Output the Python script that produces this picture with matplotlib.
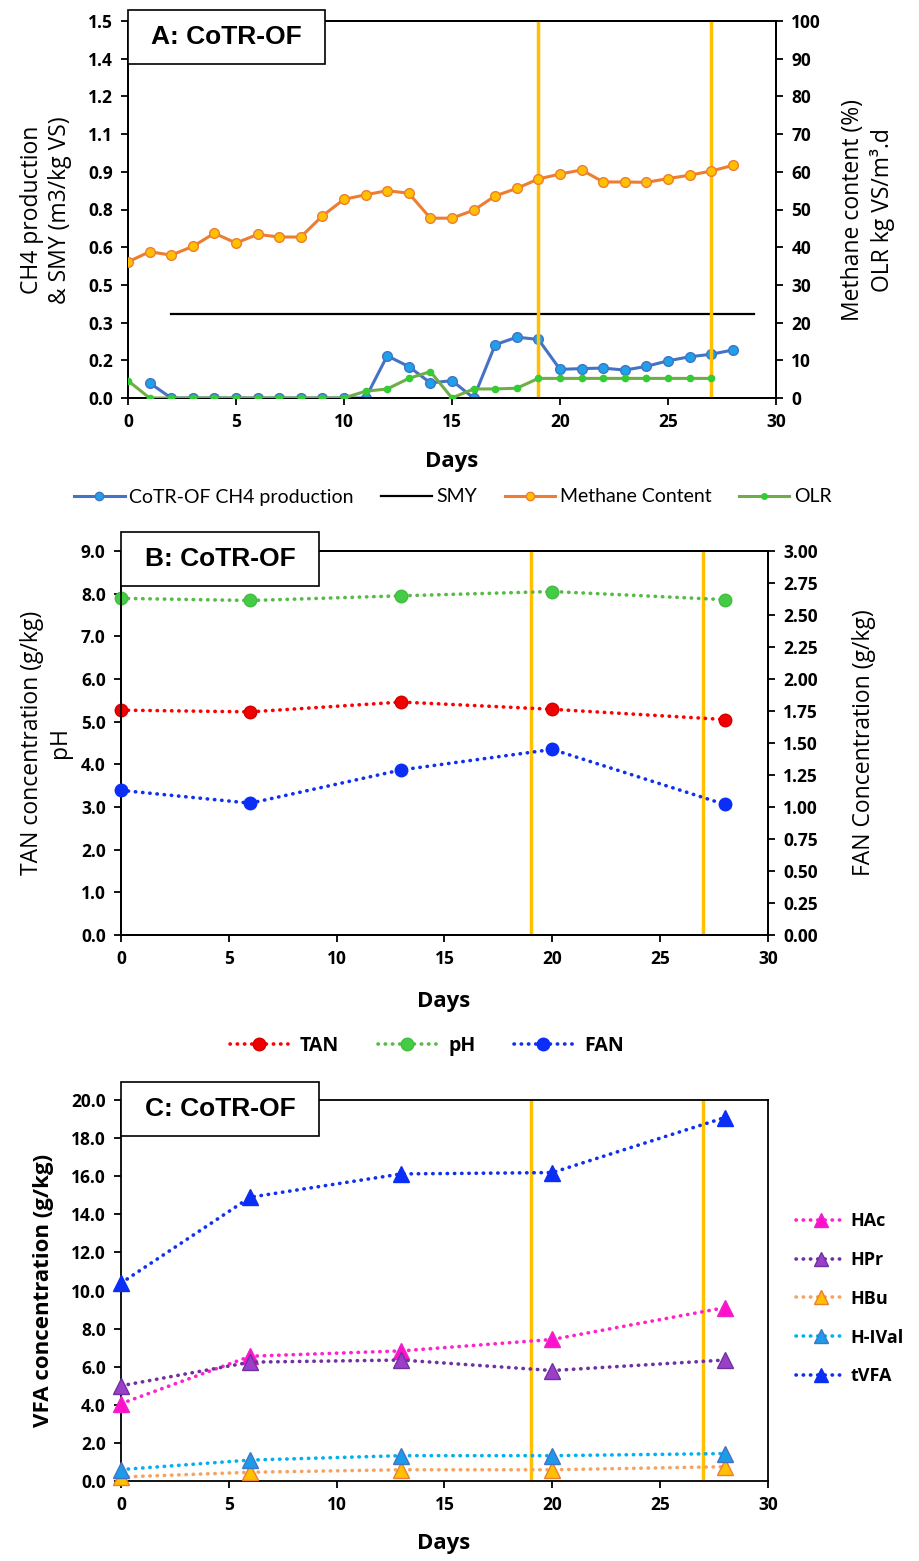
import matplotlib
matplotlib.use("Agg")
import matplotlib.pyplot as plt
from matplotlib.lines import Line2D
from matplotlib.patches import Rectangle

W, H = 920, 1561
fig = plt.figure(figsize=(9.2, 15.61), dpi=100)

# ---------------- data ----------------
# Panel A
days_ch4 = list(range(1, 29))
ch4_prod = [0.060, 0, 0, 0, 0, 0, 0, 0, 0, 0, 0,
            0.168, 0.125, 0.060, 0.069, 0.0, 0.212, 0.242, 0.233,
            0.114, 0.117, 0.119, 0.111, 0.126, 0.148, 0.164, 0.174, 0.191]
days_meth = list(range(0, 29))
methane = [36.1, 38.8, 37.9, 40.2, 43.7, 41.1, 43.4, 42.7, 42.7, 48.3,
           52.7, 53.9, 55.0, 54.3, 47.7, 47.7, 49.8, 53.6, 55.6, 58.1,
           59.4, 60.5, 57.3, 57.3, 57.2, 58.2, 59.1, 60.2, 61.7]
days_olr = list(range(0, 28))
olr = [4.6, 0, 0, 0, 0, 0, 0, 0, 0, 0, 0,
       1.8, 2.4, 5.2, 7.0, 0.0, 2.4, 2.4, 2.6, 5.2,
       5.2, 5.2, 5.2, 5.2, 5.2, 5.2, 5.2, 5.2]
smy_days = [2, 29]
smy = [0.335, 0.335]
a_left_ticks = [0, 0.15, 0.30, 0.45, 0.60, 0.75, 0.90, 1.05, 1.20, 1.35, 1.50]
a_left_labels = ["0.0", "0.2", "0.3", "0.5", "0.6", "0.8", "0.9", "1.1", "1.2", "1.4", "1.5"]

# Panel B
days_b = [0, 6, 13, 20, 28]
tan = [5.27, 5.23, 5.46, 5.29, 5.05]
ph = [7.89, 7.84, 7.95, 8.05, 7.86]
fan = [1.13, 1.03, 1.29, 1.45, 1.02]

# Panel C
days_c = [0, 6, 13, 20, 28]
hac = [4.06, 6.55, 6.83, 7.43, 9.10]
hpr = [5.00, 6.24, 6.35, 5.80, 6.35]
hbu = [0.21, 0.46, 0.59, 0.59, 0.75]
hival = [0.60, 1.10, 1.33, 1.33, 1.44]
tvfa = [10.39, 14.90, 16.12, 16.19, 19.08]

phase_lines = [19, 27]

# ---------------- helpers ----------------
TICKF = "Open Sans"
LABF = "Open Sans"
BOXF = "Liberation Sans"
VLINE = "#FFC000"
TICKSIZE = 12.5
YLAB = 16.5
DAYS = 16
DOTS = (0, (0.1, 1.9))


def rect(l, t, r, b):
    return [l / W, 1 - b / H, (r - l) / W, (b - t) / H]


def px(x, y):
    return x / W, 1 - y / H


def style_ax(ax):
    for s in ax.spines.values():
        s.set_linewidth(1.3)
        s.set_color("black")
    ax.tick_params(direction="out", length=5, width=1.3, labelsize=TICKSIZE, pad=6)


def bold_ticks(ax):
    for lab in ax.get_xticklabels() + ax.get_yticklabels():
        lab.set_fontweight("bold")
        lab.set_fontfamily(TICKF)


def box_label(text, l, t, r, b):
    x0, y1 = px(l, t)
    x1, y0 = px(r, b)
    fig.add_artist(Rectangle((x0, y0), x1 - x0, y1 - y0, transform=fig.transFigure,
                             facecolor="white", edgecolor="black", lw=1.2, zorder=10))
    fig.text((x0 + x1) / 2, (y0 + y1) / 2, text, ha="center", va="center",
             fontsize=19, fontweight="bold", family=BOXF, zorder=11)


# ---------------- Panel A ----------------
axA = fig.add_axes(rect(128, 21, 776, 398))
axA2 = axA.twinx()
style_ax(axA)
style_ax(axA2)
axA.set_xlim(0, 30)
axA.set_ylim(0, 1.5)
axA2.set_ylim(0, 100)
axA.set_xticks(range(0, 31, 5))
axA.set_yticks(a_left_ticks)
axA.set_yticklabels(a_left_labels)
axA2.set_yticks(range(0, 101, 10))
bold_ticks(axA)
bold_ticks(axA2)

axA.plot(smy_days, smy, color="black", lw=1.6, zorder=2)
axA.plot(days_ch4, ch4_prod, color="#4472C4", lw=2.2, marker="o", ms=7,
         mfc="#1FA0E8", mec="#4472C4", mew=1.0, zorder=3)
for d in phase_lines:
    axA2.axvline(d, color=VLINE, lw=2.5, zorder=1)
axA2.plot(days_meth, methane, color="#ED7D31", lw=2.2, marker="o", ms=7,
          mfc="#FFC000", mec="#ED7D31", mew=1.0, zorder=3)
axA2.plot(days_olr, olr, color="#70AD47", lw=2.2, marker="o", ms=4.5,
          mfc="#33CC33", mec="#33CC33", zorder=4)

fig.text(*px(452, 462), "Days", ha="center", va="center", fontsize=DAYS,
         fontweight="bold", family=LABF)
fig.text(*px(46, 210), "CH4 production\n& SMY (m3/kg VS)", ha="center", va="center",
         rotation=90, fontsize=YLAB, family=LABF, linespacing=1.25)
fig.text(*px(868, 210), "Methane content (%)\nOLR kg VS/m\u00b3.d", ha="center",
         va="center", rotation=90, fontsize=YLAB, family=LABF, linespacing=1.25)
box_label("A: CoTR-OF", 128, 10, 325, 64)

hA = [Line2D([], [], color="#4472C4", lw=2.2, marker="o", ms=6, mfc="#1FA0E8", mec="#4472C4"),
      Line2D([], [], color="black", lw=1.6),
      Line2D([], [], color="#ED7D31", lw=2.2, marker="o", ms=6, mfc="#FFC000", mec="#ED7D31"),
      Line2D([], [], color="#70AD47", lw=2.2, marker="o", ms=4, mfc="#33CC33", mec="#33CC33")]
fig.legend(hA, ["CoTR-OF CH4 production", "SMY", "Methane Content", "OLR"],
           loc="center", bbox_to_anchor=px(453, 497), ncol=4, frameon=False,
           prop={"family": "Lato", "size": 14}, handlelength=2.6, columnspacing=1.4,
           handletextpad=0.25)

# ---------------- Panel B ----------------
axB = fig.add_axes(rect(121, 551, 768, 935))
axB2 = axB.twinx()
style_ax(axB)
style_ax(axB2)
axB.set_xlim(0, 30)
axB.set_ylim(0, 9)
axB2.set_ylim(0, 3)
axB.set_xticks(range(0, 31, 5))
axB.set_yticks(range(0, 10))
axB.set_yticklabels([f"{v:.1f}" for v in range(0, 10)])
b2t = [i * 0.25 for i in range(13)]
axB2.set_yticks(b2t)
axB2.set_yticklabels([f"{v:.2f}" for v in b2t])
bold_ticks(axB)
bold_ticks(axB2)
for d in phase_lines:
    axB.axvline(d, color=VLINE, lw=2.5, zorder=1)
dot = dict(ls=DOTS, lw=2.6, dash_capstyle="round", marker="o", ms=9)
axB.plot(days_b, tan, color="#FF0000", mfc="#F00000", mec="#D00000", clip_on=False, zorder=3, **dot)
axB.plot(days_b, ph, color="#55BB44", mfc="#44CC44", mec="#44BB44", clip_on=False, zorder=3, **dot)
axB2.plot(days_b, fan, color="#1030F0", mfc="#0A2EF5", mec="#0A2EF5", clip_on=False, zorder=3, **dot)

fig.text(*px(444, 1002), "Days", ha="center", va="center", fontsize=DAYS,
         fontweight="bold", family=LABF)
fig.text(*px(46, 743), "TAN concentration (g/kg)\npH", ha="center", va="center",
         rotation=90, fontsize=YLAB, family=LABF, linespacing=1.2)
fig.text(*px(864, 743), "FAN Concentration (g/kg)", ha="center", va="center",
         rotation=90, fontsize=YLAB, family=LABF)
box_label("B: CoTR-OF", 121, 532, 319, 586)

dleg = dict(ls=DOTS, lw=2.6, dash_capstyle="round", marker="o", ms=9)
hB = [Line2D([], [], color="#FF0000", mfc="#F00000", mec="#D00000", **dleg),
      Line2D([], [], color="#55BB44", mfc="#44CC44", mec="#44BB44", **dleg),
      Line2D([], [], color="#1030F0", mfc="#0A2EF5", mec="#0A2EF5", **dleg)]
fig.legend(hB, ["TAN", "pH", "FAN"], loc="center", bbox_to_anchor=px(427, 1046),
           ncol=3, frameon=False, prop={"family": LABF, "size": 14, "weight": "bold"},
           handlelength=3.0, columnspacing=2.0, handletextpad=0.6)

# ---------------- Panel C ----------------
axC = fig.add_axes(rect(121, 1100, 768, 1481))
style_ax(axC)
axC.tick_params(right=False)
axC.set_xlim(0, 30)
axC.set_ylim(0, 20)
axC.set_xticks(range(0, 31, 5))
axC.set_yticks(range(0, 21, 2))
axC.set_yticklabels([f"{v:.1f}" for v in range(0, 21, 2)])
bold_ticks(axC)
for d in phase_lines:
    axC.axvline(d, color=VLINE, lw=2.5, zorder=1)
tri = dict(ls=DOTS, lw=2.6, dash_capstyle="round", marker="^", ms=11,
           clip_on=False, zorder=3)
series_c = [("HAc", hac, "#FF22CC", "#FF11CC", "#EE22CC"),
            ("HPr", hpr, "#7030A0", "#9A40C8", "#7030A0"),
            ("HBu", hbu, "#F4A460", "#FFC000", "#ED7D31"),
            ("H-IVal", hival, "#00B0F0", "#1E9BE8", "#4472C4"),
            ("tVFA", tvfa, "#1030F0", "#0A2EF5", "#0A2EF5")]
hC = []
for name, vals, lc, fc, ec in series_c:
    axC.plot(days_c, vals, color=lc, mfc=fc, mec=ec, mew=1.0, **tri)
    hC.append(Line2D([], [], color=lc, mfc=fc, mec=ec, mew=1.0,
                     ls=DOTS, lw=2.6, dash_capstyle="round", marker="^", ms=10))

fig.text(*px(444, 1543), "Days", ha="center", va="center", fontsize=DAYS,
         fontweight="bold", family=LABF)
fig.text(*px(44, 1290), "VFA concentration (g/kg)", ha="center", va="center",
         rotation=90, fontsize=YLAB - 0.5, fontweight="bold", family=LABF)
box_label("C: CoTR-OF", 121, 1082, 319, 1136)
fig.legend(hC, [s[0] for s in series_c], loc="upper left", bbox_to_anchor=px(780, 1196),
           ncol=1, frameon=False, prop={"family": LABF, "size": 13, "weight": "bold"},
           handlelength=2.7, handletextpad=0.3, labelspacing=1.15)

fig.savefig("out.png", dpi=100, facecolor="white")
